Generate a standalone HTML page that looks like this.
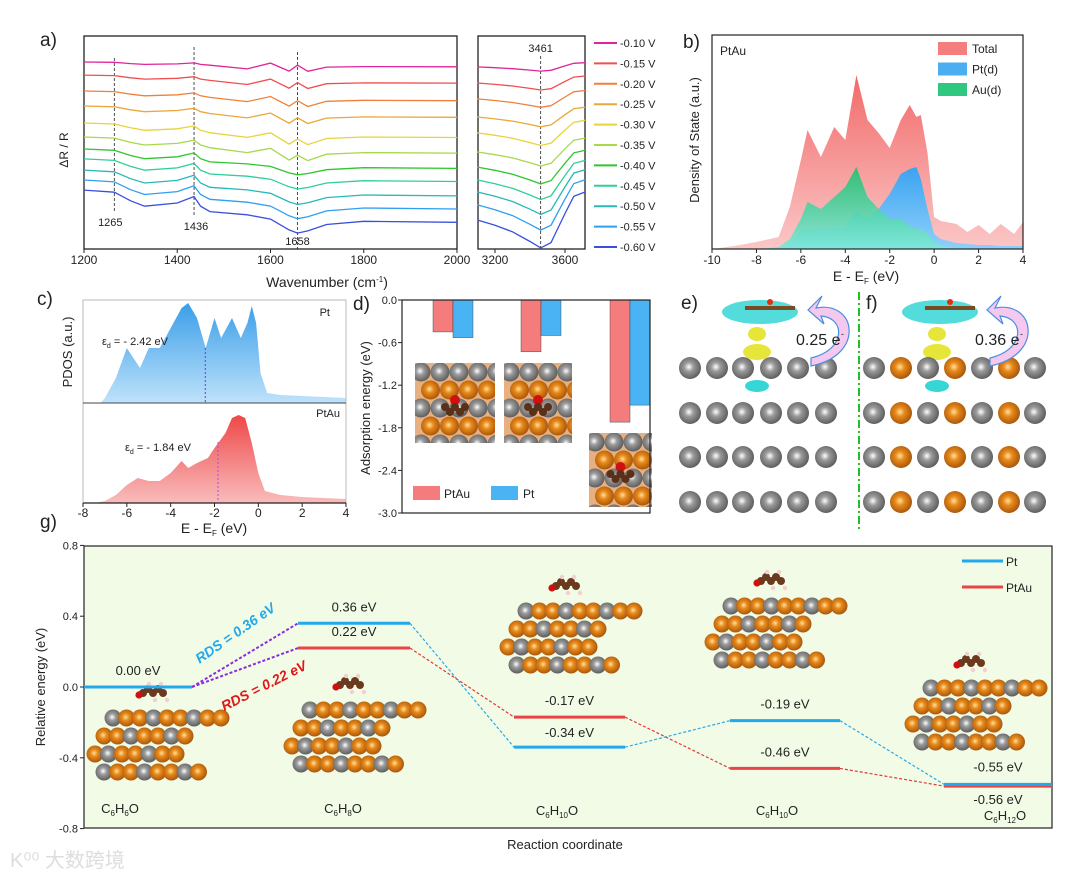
<!DOCTYPE html>
<html><head><meta charset="utf-8"><style>
body{margin:0;background:#fff}
svg{display:block;font-family:"Liberation Sans","Noto Sans CJK SC",sans-serif}
</style></head><body>
<svg id="s" width="1080" height="879" viewBox="0 0 1080 879">
<defs>
<radialGradient id="gPt" cx="0.45" cy="0.45" r="0.6"><stop offset="0" stop-color="#fff"/><stop offset="0.35" stop-color="#9a9a9a"/><stop offset="1" stop-color="#555"/></radialGradient>
<radialGradient id="gAu" cx="0.45" cy="0.45" r="0.6"><stop offset="0" stop-color="#ffe0a0"/><stop offset="0.35" stop-color="#e88a1a"/><stop offset="1" stop-color="#a0500a"/></radialGradient>
<linearGradient id="gTot" x1="0" y1="0" x2="0" y2="1"><stop offset="0" stop-color="#f26a6a"/><stop offset="1" stop-color="#fbc7c7"/></linearGradient>
<linearGradient id="gPtd" x1="0" y1="0" x2="0" y2="1"><stop offset="0" stop-color="#3ba3f0"/><stop offset="1" stop-color="#8fd0fa"/></linearGradient>
<linearGradient id="gAud" x1="0" y1="0" x2="0" y2="1"><stop offset="0" stop-color="#1fc070"/><stop offset="1" stop-color="#7ee8d8"/></linearGradient>
<linearGradient id="gCPt" x1="0" y1="0" x2="0" y2="1"><stop offset="0" stop-color="#3a9ee8"/><stop offset="1" stop-color="#bfe2fb"/></linearGradient>
<linearGradient id="gCAu" x1="0" y1="0" x2="0" y2="1"><stop offset="0" stop-color="#ee4848"/><stop offset="1" stop-color="#f9bcbc"/></linearGradient>
</defs>
<g id="root"></g>
</svg>
<script>
// ---------- data ----------
const aPotentials=["-0.10 V","-0.15 V","-0.20 V","-0.25 V","-0.30 V","-0.35 V","-0.40 V","-0.45 V","-0.50 V","-0.55 V","-0.60 V"];
const aColors=["#e0259a","#ef4f4f","#f0803c","#eaa83a","#e8d43a","#a7d94a","#2ec62e","#2fcf9a","#28b8b8","#2f9ff0","#3a4fe0"];
const aOffsets=[8.70,8.09,7.35,6.65,5.86,5.21,4.65,4.19,3.67,3.21,2.74];
const aAmp=[0.15,0.25,0.3,0.35,0.45,0.5,0.6,0.7,0.8,0.9,1.0];
const aWn=[1200,1265,1300,1330,1400,1436,1450,1470,1550,1600,1640,1658,1680,1720,1800,2000];
const aProfile=[0,-0.1,-0.5,-0.75,-0.6,-0.3,-0.75,-1.0,-1.15,-1.35,-1.85,-2.0,-1.9,-1.6,-1.45,-1.5];
const aRWn=[3100,3200,3300,3400,3461,3520,3600,3650,3715];
const aROffsets=[8.47,7.72,6.98,6.14,5.40,4.51,3.81,3.21,2.65,2.05,1.35];
const aRProfile=[0,-0.25,-0.55,-1.0,-1.3,-1.05,0.3,1.1,1.3];
const bE=[-10,-9,-8,-7,-6.5,-6,-5.7,-5.1,-4.5,-4,-3.5,-3,-2.5,-2,-1.5,-1.1,-0.8,-0.6,-0.3,0,0.3,1,1.5,2,2.5,3,3.6,4];
const bTotal=[0,3,7,12,42,89,119,92,122,109,174,129,116,101,129,144,132,134,96,32,28,25,17,24,15,25,15,27];
const bPtd=[0,0,0,1,5,18,19,20,21,22,38,30,40,55,75,80,82,70,40,15,10,6,5,4,4,3,3,3];
const bAud=[0,0,0,2,10,30,47,40,52,62,82,52,40,30,30,23,20,20,15,7,3,1,1,0,0,0,0,0];
const cE=[-8,-7.2,-7,-6.5,-6,-5.7,-5.4,-5,-4.5,-4,-3.5,-3.2,-2.8,-2.4,-2.2,-2,-1.7,-1.2,-0.8,-0.5,-0.3,-0.1,0.1,0.4,1,2,3,4];
const cPt=[0,0,5,25,55,45,35,55,55,75,95,100,85,55,70,85,65,85,65,80,97,80,30,10,8,7,6,5];
const cE2=[-8,-7.5,-7,-6.5,-6,-5.5,-5,-4.5,-4,-3.5,-3.2,-2.8,-2.3,-2,-1.5,-1.2,-0.9,-0.6,-0.3,0,0.3,1,2,3,4];
const cPtAu=[0,0,2,8,18,25,22,22,30,42,35,40,45,55,70,85,88,85,60,30,12,8,6,5,4];
const dGroups=["g1","g2","g3"];
const dPtAu=[-0.45,-0.73,-1.72];
const dPt=[-0.53,-0.50,-1.48];
const gStates=["C6H6O","C6H8O","C6H10O","C6H10O","C6H12O"];
const gPt=[0.00,0.36,-0.34,-0.19,-0.55];
const gPtAu=[0.00,0.22,-0.17,-0.46,-0.56];
const gPtLabels=["0.00 eV","0.36 eV","-0.34 eV","-0.19 eV","-0.55 eV"];
const gPtAuLabels=["","0.22 eV","-0.17 eV","-0.46 eV","-0.56 eV"];

const NS="http://www.w3.org/2000/svg";
const root=document.getElementById('root');
function mk(tag,attrs,parent,text){const e=document.createElementNS(NS,tag);for(const k in attrs)e.setAttribute(k,attrs[k]);if(text!==undefined)e.textContent=text;(parent||root).appendChild(e);return e;}
function txt(x,y,s,size,anchor,parent,extra){return mk('text',Object.assign({x:x,y:y,'font-size':size,'text-anchor':anchor||'middle',fill:'#222'},extra||{}),parent,s);}
function rich(x,y,html,size,anchor,parent){const t=mk('text',{x:x,y:y,'font-size':size,'text-anchor':anchor||'middle',fill:'#222'},parent);t.innerHTML=html;return t;}

// ---------- panel a ----------
const pa=mk('g',{});


const axL=84,axR=457,axT=36,axB=249;
const xa=w=>axL+(w-1200)/800*(axR-axL);
const ya=v=>axB-v*21.5;
mk('rect',{x:axL,y:axT,width:axR-axL,height:axB-axT,fill:'none',stroke:'#222','stroke-width':1.3},pa);
[1265,1436,1658].forEach((w,i)=>{const l=mk('line',{x1:xa(w),x2:xa(w),y1:[58,47,52][i],y2:[212,216,249][i],stroke:'#222','stroke-dasharray':'3,2','stroke-width':0.8},pa);
});
txt(xa(1265)-4,226,"1265",11,'middle',pa);txt(xa(1436)+2,230,"1436",11,'middle',pa);txt(xa(1658),245,"1658",11,'middle',pa);
aPotentials.forEach((p,i)=>{let d='';aWn.forEach((w,j)=>{const wig=(w>1480&&w<1720&&i<6)?((j%2)?0.15:-0.15):0;d+=(j?'L':'M')+xa(w).toFixed(1)+','+ya(aOffsets[i]+aAmp[i]*aProfile[j]+wig).toFixed(1);});
const c=mk('path',{d:d,fill:'none',stroke:aColors[i],'stroke-width':1.3},pa);});
[1200,1400,1600,1800,2000].forEach(w=>{mk('line',{x1:xa(w),x2:xa(w),y1:axB,y2:axB+4,stroke:'#222'},pa);txt(xa(w),axB+15,String(w),12,'middle',pa);});
rich(327,287,'Wavenumber (cm<tspan font-size="8" dy="-5">-1</tspan><tspan dy="5">)</tspan>',14,'middle',pa);
txt(0,0,"ΔR / R",12,'middle',pa,{transform:'translate(68,150) rotate(-90)'});
txt(40,46,"a)",19,'start',pa);
const rL=478,rR=585;
const xr=w=>477.5+(w-3100)*0.175;
mk('rect',{x:rL,y:axT,width:rR-rL,height:axB-axT,fill:'none',stroke:'#222','stroke-width':1.3},pa);
mk('line',{x1:xr(3461),x2:xr(3461),y1:56,y2:249,stroke:'#222','stroke-dasharray':'3,2','stroke-width':0.8},pa);
txt(xr(3461),52,"3461",11,'middle',pa);
aPotentials.forEach((p,i)=>{let d='';aRWn.forEach((w,j)=>{d+=(j?'L':'M')+xr(w).toFixed(1)+','+ya(aROffsets[i]+aAmp[i]*aRProfile[j]).toFixed(1);});
const c=mk('path',{d:d,fill:'none',stroke:aColors[i],'stroke-width':1.3},pa);});
[3200,3600].forEach(w=>{mk('line',{x1:xr(w),x2:xr(w),y1:axB,y2:axB+4,stroke:'#222'},pa);txt(xr(w),axB+15,String(w),12,'middle',pa);});
const lg=mk('g',{},pa);
aPotentials.forEach((p,i)=>{const y=43+i*20.4;mk('line',{x1:594,x2:617,y1:y,y2:y,stroke:aColors[i],'stroke-width':2},lg);txt(620,y+4,p,11,'start',lg);});

// ---------- panel b ----------
const pb=mk('g',{});
const bL=712,bR=1023,bT=35,bB=249;
const xb=e=>bL+(e+10)/14*(bR-bL);
function area(xs,ys,xf,base,scale,fill,parent,name,op){let d='M'+xf(xs[0])+','+base;xs.forEach((x,i)=>{d+='L'+xf(x).toFixed(1)+','+(base-ys[i]*scale).toFixed(1);});d+='L'+xf(xs[xs.length-1])+','+base+'Z';const p=mk('path',{d:d,fill:fill,stroke:'none',opacity:op||1},parent);return p;}
area(bE,bTotal,xb,bB,1,'url(#gTot)',pb,'dos-total');
area(bE,bPtd,xb,bB,1,'url(#gPtd)',pb,'dos-pt-d');
area(bE,bAud,xb,bB,1,'url(#gAud)',pb,'dos-au-d',0.9);
mk('rect',{x:bL,y:bT,width:bR-bL,height:bB-bT,fill:'none',stroke:'#222','stroke-width':1.2},pb);
[-10,-8,-6,-4,-2,0,2,4].forEach(e=>{mk('line',{x1:xb(e),x2:xb(e),y1:bB,y2:bB+4,stroke:'#222'},pb);txt(xb(e),bB+15,String(e),12,'middle',pb);});
rich(866,281,'E - E<tspan font-size="8" dy="3">F</tspan><tspan dy="-3"> (eV)</tspan>',14,'middle',pb);
txt(0,0,"Density of State (a.u.)",13,'middle',pb,{transform:'translate(699,140) rotate(-90)'});
txt(683,48,"b)",19,'start',pb);txt(720,55,"PtAu",12,'start',pb);
const bl=mk('g',{},pb);
[['Total','#f47e7e'],['Pt(d)','#4aaef0'],['Au(d)','#30c880']].forEach((l,i)=>{const y=42+i*20.5;mk('rect',{x:938,y:y,width:29,height:13,fill:l[1]},bl);txt(972,y+11,l[0],12,'start',bl);});

// ---------- panel c ----------
const pc=mk('g',{});
const cL=83,cR=346,cT=300,cM=403,cB=503;
const xc=e=>cL+(e+8)/12*(cR-cL);
area(cE,cPt,xc,cM,1,'url(#gCPt)',pc,'pdos-pt');
area(cE2,cPtAu,xc,cB,1,'url(#gCAu)',pc,'pdos-ptau');
mk('rect',{x:cL,y:cT,width:cR-cL,height:cB-cT,fill:'none',stroke:'#bbb','stroke-width':1},pc);
mk('line',{x1:cL,x2:cR,y1:cM,y2:cM,stroke:'#444'},pc);
mk('line',{x1:cL,x2:cR,y1:cB,y2:cB,stroke:'#222','stroke-width':1.2},pc);
mk('line',{x1:xc(-2.42),x2:xc(-2.42),y1:348,y2:cM,stroke:'#8a2be2','stroke-dasharray':'2,2'},pc);
mk('line',{x1:xc(-1.84),x2:xc(-1.84),y1:442,y2:cB,stroke:'#b04be2','stroke-dasharray':'2,2'},pc);
rich(102,345,'ε<tspan font-size="7" dy="3">d</tspan><tspan dy="-3"> = - 2.42 eV</tspan>',11,'start',pc);
rich(125,451,'ε<tspan font-size="7" dy="3">d</tspan><tspan dy="-3"> = - 1.84 eV</tspan>',11,'start',pc);
txt(330,316,"Pt",11,'end',pc);txt(340,417,"PtAu",11,'end',pc);
[-8,-6,-4,-2,0,2,4].forEach(e=>{mk('line',{x1:xc(e),x2:xc(e),y1:cB,y2:cB+4,stroke:'#222'},pc);txt(xc(e),cB+14,String(e),12,'middle',pc);});
rich(214,533,'E - E<tspan font-size="8" dy="3">F</tspan><tspan dy="-3"> (eV)</tspan>',14,'middle',pc);
txt(0,0,"PDOS (a.u.)",13,'middle',pc,{transform:'translate(72,352) rotate(-90)'});
txt(37,305,"c)",19,'start',pc);

// ---------- panel d ----------
const pd=mk('g',{});
const dL=402,dR=650,dT=300,dB=513;
const yd=v=>dT+(-v)/3*(dB-dT);
const dX=[433,521,610];
dGroups.forEach((g,i)=>{const r1=mk('rect',{x:dX[i],y:dT,width:20,height:yd(dPtAu[i])-dT,fill:'#f47c7c',stroke:'#333','stroke-width':0.4},pd);
const r2=mk('rect',{x:dX[i]+20,y:dT,width:20,height:yd(dPt[i])-dT,fill:'#4ab3f3',stroke:'#333','stroke-width':0.4},pd);});
[0,-0.6,-1.2,-1.8,-2.4,-3.0].forEach(v=>{mk('line',{x1:dL,x2:dL-4,y1:yd(v),y2:yd(v),stroke:'#222'},pd);txt(dL-5,yd(v)+4,v.toFixed(1),11,'end',pd);});
txt(0,0,"Adsorption energy (eV)",13,'middle',pd,{transform:'translate(370,408) rotate(-90)'});
txt(353,310,"d)",19,'start',pd);

function slabTop(x0,y0,cols,rows,dx,dy,r,parent,pattern){for(let j=0;j<rows;j++)for(let i=0;i<cols;i++){const au=pattern(i,j);mk('circle',{cx:x0+i*dx+(j%2)*dx/2,cy:y0+j*dy,r:r,fill:au?'url(#gAu)':'url(#gPt)'},parent);}}
function slabSide(x0,y0,parent){for(let j=3;j>=0;j--){const n=[9,7,7,8][j];for(let i=0;i<n;i++){const au=((i+j)%3)!==0;mk('circle',{cx:x0+[18,9,0,9][j]+i*13.5,cy:y0+j*18,r:8.5,fill:au?'url(#gAu)':'url(#gPt)'},parent);}}}
function molecule(x,y,parent){for(let i=0;i<5;i++)mk('circle',{cx:x+i*5,cy:y-(i%2)*4,r:4,fill:'#6b3a1e'},parent);mk('circle',{cx:x-4,cy:y+2,r:3.6,fill:'#d01010'},parent);
 for(let i=0;i<4;i++)mk('circle',{cx:x+6+i*6,cy:y-9+(i%2)*16,r:2.2,fill:'#f2d0d0'},parent);}
[[415,363,80,80],[504,363,68,80],[589,433,63,74]].forEach((b,k)=>{const g=mk('g',{},pd);
 const cp=mk('clipPath',{id:'cl'+k},g);mk('rect',{x:b[0],y:b[1],width:b[2],height:b[3]},cp);
 const gg=mk('g',{'clip-path':'url(#cl'+k+')'},g);mk('rect',{x:b[0],y:b[1],width:b[2],height:b[3],fill:'#e8b080'},gg);
 slabTop(b[0]+6,b[1]+9,5,5,19,18,9.5,gg,(i,j)=>j%2===1);
 mk('circle',{cx:b[0]+b[2]/2,cy:b[1]+b[3]/2-3,r:5,fill:'#d01010'},gg);
 for(let i=0;i<5;i++)mk('circle',{cx:b[0]+b[2]/2-10+i*5,cy:b[1]+b[3]/2+4+(i%2)*5,r:4,fill:'#5a3018'},gg);});
mk('rect',{x:dL,y:dT,width:dR-dL,height:dB-dT,fill:'none',stroke:'#222','stroke-width':1.2},pd);
mk('rect',{x:413,y:486,width:27,height:14,fill:'#f47c7c'},pd);txt(444,498,"PtAu",12,'start',pd);
mk('rect',{x:491,y:486,width:27,height:14,fill:'#4ab3f3'},pd);txt(523,498,"Pt",12,'start',pd);

// ---------- panels e,f ----------
const pe=mk('g',{});
const pf=mk('g',{});
txt(681,309,"e)",19,'start',pe);txt(866,309,"f)",19,'start',pf);
[[pe,760],[pf,940]].forEach(a=>{const g=a[0],cx=a[1];mk('ellipse',{cx:cx,cy:312,rx:38,ry:12,fill:'#36d6d6',opacity:0.85},g);
 mk('ellipse',{cx:cx-3,cy:334,rx:9,ry:7,fill:'#e6e63a'},g);mk('ellipse',{cx:cx-3,cy:352,rx:14,ry:8,fill:'#e6e63a'},g);
 mk('rect',{x:cx-15,y:306,width:50,height:4,fill:'#7a4a20'},g);mk('circle',{cx:cx+10,cy:302,r:3,fill:'#e03010'},g);
 mk('ellipse',{cx:cx-3,cy:386,rx:12,ry:6,fill:'#36d6d6'},g);});
[690,717,743,771,798,826].forEach(x=>{[368,413,457,502].forEach(y=>mk('circle',{cx:x,cy:y,r:11,fill:'url(#gPt)'},pe));});
[874,901,928,955,982,1009,1035].forEach((x,i)=>{[368,413,457,502].forEach(y=>mk('circle',{cx:x,cy:y,r:11,fill:(i%2)?'url(#gAu)':'url(#gPt)'},pf));});
mk('line',{x1:859,x2:859,y1:292,y2:530,stroke:'#22c022','stroke-width':2,'stroke-dasharray':'8,3,2,3'},root);
[[pe,816,'0.25 e'],[pf,995,'0.36 e']].forEach(a=>{mk('path',{d:`M${a[1]},308 C${a[1]+40},300 ${a[1]+50},355 ${a[1]-5},366 L${a[1]-5},358 C${a[1]+30},350 ${a[1]+30},318 ${a[1]+5},316 L${a[1]+8},324 L${a[1]-8},310 L${a[1]+6},296 Z`,fill:'#f5c8f0',stroke:'#4a90e0','stroke-width':1.2},a[0]);
 txt(a[1]-20,345,a[2],16,'start',a[0]);txt(a[1]+25,337,'-',9,'start',a[0]);});

// ---------- panel g ----------
const pg=mk('g',{});
const gL=84,gR=1052,gT=546,gB=828;
const yg=v=>687-v*177;
const gX1=[84,298,514,730,944],gX2=[192,410,625,840,1052];
mk('rect',{x:gL,y:gT,width:gR-gL,height:gB-gT,fill:'#f2fbe6',stroke:'#222','stroke-width':1.2},pg);
txt(40,528,"g)",19,'start',pg);
[0.8,0.4,0,-0.4,-0.8].forEach(v=>{mk('line',{x1:gL,x2:gL-4,y1:yg(v),y2:yg(v),stroke:'#222'},pg);txt(gL-6,yg(v)+4,v.toFixed(1),11,'end',pg);});
txt(0,0,"Relative energy (eV)",13,'middle',pg,{transform:'translate(45,687) rotate(-90)'});
txt(565,849,"Reaction coordinate",13,'middle',pg);
[[95,745],[292,737],[508,638],[713,633],[913,715]].forEach((p,k)=>{const g=mk('g',{},pg);slabSide(p[0],p[1]-27,g);molecule(p[0]+48,p[1]-52,g);});
for(let i=0;i<4;i++){
 const c1=mk('line',{x1:gX2[i],y1:yg(gPt[i]),x2:gX1[i+1],y2:yg(gPt[i+1]),stroke:i===0?'#8a2be2':'#2aa8e8','stroke-width':i===0?2:1.2,'stroke-dasharray':'3,2'},pg);
 const c2=mk('line',{x1:gX2[i],y1:yg(gPtAu[i]),x2:gX1[i+1],y2:yg(gPtAu[i+1]),stroke:i===0?'#8a2be2':'#e03a3a','stroke-width':i===0?2:1.2,'stroke-dasharray':'3,2'},pg);}
gStates.forEach((s,i)=>{
 const a=mk('line',{x1:gX1[i],x2:gX2[i],y1:yg(gPtAu[i]),y2:yg(gPtAu[i]),stroke:'#e84545','stroke-width':3},pg);
 const b=mk('line',{x1:gX1[i],x2:gX2[i],y1:yg(gPt[i]),y2:yg(gPt[i]),stroke:'#22a8ec','stroke-width':3},pg);});
const mid=i=>(gX1[i]+gX2[i])/2;
txt(mid(0),yg(gPt[0])-12,gPtLabels[0],13,'middle',pg);
txt(mid(1),yg(gPt[1])-12,gPtLabels[1],13,'middle',pg);
txt(mid(2),yg(gPt[2])-10,gPtLabels[2],13,'middle',pg);
txt(mid(3),yg(gPt[3])-12,gPtLabels[3],13,'middle',pg);
txt(mid(4),yg(gPt[4])-13,gPtLabels[4],13,'middle',pg);
[1,2,3].forEach(i=>txt(mid(i),yg(gPtAu[i])-12,gPtAuLabels[i],13,'middle',pg));
txt(mid(4),yg(gPtAu[4])+18,gPtAuLabels[4],13,'middle',pg);
const subs=[["6","6"],["6","8"],["6","10"],["6","10"],["6","12"]];
[[120,813],[343,813],[557,815],[777,815],[1005,820]].forEach((p,i)=>{rich(p[0],p[1],`C<tspan font-size="8" dy="3">${subs[i][0]}</tspan><tspan dy="-3">H</tspan><tspan font-size="8" dy="3">${subs[i][1]}</tspan><tspan dy="-3">O</tspan>`,13,'middle',pg);});
txt(0,0,"RDS = 0.36 eV",14,'middle',pg,{transform:'translate(238,637) rotate(-35)',fill:'#22a8ec','font-weight':'bold','font-style':'italic'});
txt(0,0,"RDS = 0.22 eV",14,'middle',pg,{transform:'translate(266,690) rotate(-27)',fill:'#e01818','font-weight':'bold','font-style':'italic'});
const gl=mk('g',{},pg);
mk('line',{x1:962,x2:1003,y1:561,y2:561,stroke:'#22a8ec','stroke-width':3},gl);txt(1006,566,"Pt",12,'start',gl);
mk('line',{x1:962,x2:1003,y1:587,y2:587,stroke:'#e84545','stroke-width':3},gl);txt(1006,592,"PtAu",12,'start',gl);
txt(10,867,"K⁰⁰ 大数跨境",20,'start',root,{fill:'#ddd'});
</script>
</body></html>
